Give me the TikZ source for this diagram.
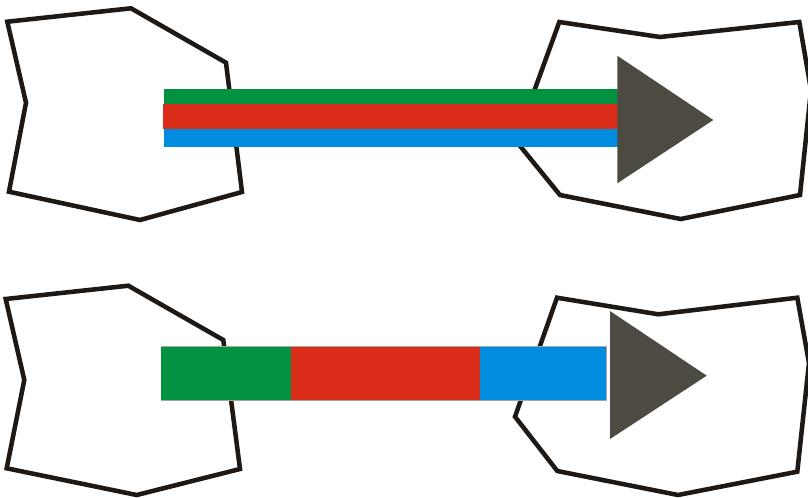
\documentclass[tikz,border=0pt]{standalone}
\definecolor{cgreen}{HTML}{009240}
\definecolor{cred}{HTML}{DC2C1A}
\definecolor{cblue}{HTML}{008DE0}
\definecolor{ctri}{HTML}{4D4A42}
\definecolor{cline}{HTML}{1E1915}
\tikzset{
  blob/.style={draw=cline, line width=3.4pt, line join=miter, fill=white},
  tri/.style={fill=ctri},
}
\begin{document}
\begin{tikzpicture}[x=0.75pt,y=-0.75pt]
\useasboundingbox (0,0) rectangle (808,497);
% top row
\draw[blob] (7.3,21.7) -- (131,8.3) -- (226,62.7) -- (242,192) -- (140,220) -- (9,191.7) -- (26,102.7) -- cycle;
\draw[blob] (559.3,22) -- (660,37) -- (799.3,22) -- (811,90) -- (800,195) -- (680.7,219) -- (560,195) -- (516,141) -- cycle;
\fill[cgreen] (164,88.5) rectangle (618.5,104.5);
\fill[cred] (163,104.3) rectangle (617.7,129.3);
\fill[cblue] (164,129.3) rectangle (619,146.7);
\fill[tri] (617.3,55.7) -- (713.3,120) -- (617.3,183.3) -- cycle;
% bottom row
\draw[blob] (5.7,299) -- (128.3,285.7) -- (223.3,340) -- (240,469) -- (136.7,495) -- (6.7,468.3) -- (24.3,380) -- cycle;
\draw[blob] (557,297.7) -- (658.3,314.3) -- (797.3,297.7) -- (809,363) -- (797.3,471.7) -- (678,495) -- (557.3,471) -- (515,416.7) -- cycle;
\draw[gray!70, line width=0.6pt] (161,346.7) rectangle (606.3,400);
\fill[cgreen] (161,346.7) rectangle (291,400);
\fill[cred] (291,346.7) rectangle (480,400);
\fill[cblue] (480,346.7) rectangle (606.3,400);
\fill[tri] (610,311) -- (706.7,375.7) -- (610,439) -- cycle;
\end{tikzpicture}
\end{document}
